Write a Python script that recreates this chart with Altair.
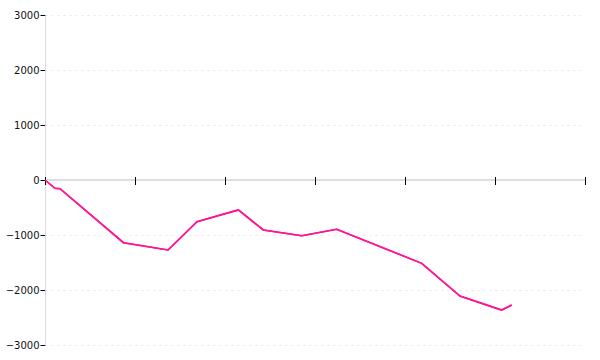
import altair as alt
import pandas as pd

# Series values
xs = [0, 0.111, 0.167, 0.872, 1.367, 1.689, 2.148, 2.426, 2.852, 3.241, 4.186, 4.611, 5.074, 5.186]
ys = [0, -151, -158, -1140, -1273, -758, -545, -909, -1013, -896, -1515, -2109, -2364, -2273]

# Axis tick values
x_ticks = [0, 1, 2, 3, 4, 5, 6]
y_ticks = [-3000, -2000, -1000, 0, 1000, 2000, 3000]

line_df = pd.DataFrame({"x": xs, "y": ys})
tick_df = pd.DataFrame({"x": x_ticks, "y": [0] * len(x_ticks)})

xscale = alt.Scale(domain=[0, 6], nice=False, zero=False)
yscale = alt.Scale(domain=[-3000, 3000], nice=False)

yaxis = alt.Axis(
    values=y_ticks,
    format="d",
    grid=True,
    gridColor="#e6e6e6",
    gridDash=[2, 4],
    gridWidth=1,
    domainColor="#dddddd",
    tickColor="#000000",
    tickSize=5,
    labelFont="DejaVu Sans",
    labelFontSize=10,
    labelColor="#111111",
    labelPadding=1,
    title=None,
)

base_line = alt.Chart(line_df).mark_line(color="#ff1493", strokeWidth=1.6).encode(
    x=alt.X("x:Q", scale=xscale, axis=None),
    y=alt.Y("y:Q", scale=yscale, axis=yaxis),
)

zero_rule = alt.Chart(tick_df).mark_rule(color="#dddddd", strokeWidth=1).encode(
    y=alt.Y("y:Q", scale=yscale),
)

x_tick_marks = alt.Chart(tick_df).mark_tick(
    color="#000000", orient="vertical", size=8, thickness=1, opacity=1,
    xOffset=0.5, yOffset=1
).encode(
    x=alt.X("x:Q", scale=xscale, axis=None),
    y=alt.Y("y:Q", scale=yscale),
)

chart = alt.layer(base_line, zero_rule, x_tick_marks, base_line).properties(
    width=540,
    height=330,
    autosize=alt.AutoSizeParams(type="none"),
    padding={"left": 45, "top": 15, "right": 15, "bottom": 15},
    background="white",
).configure_view(strokeWidth=0, stroke=None)

chart.save("out.html", embed_options={"renderer": "svg", "actions": False})
